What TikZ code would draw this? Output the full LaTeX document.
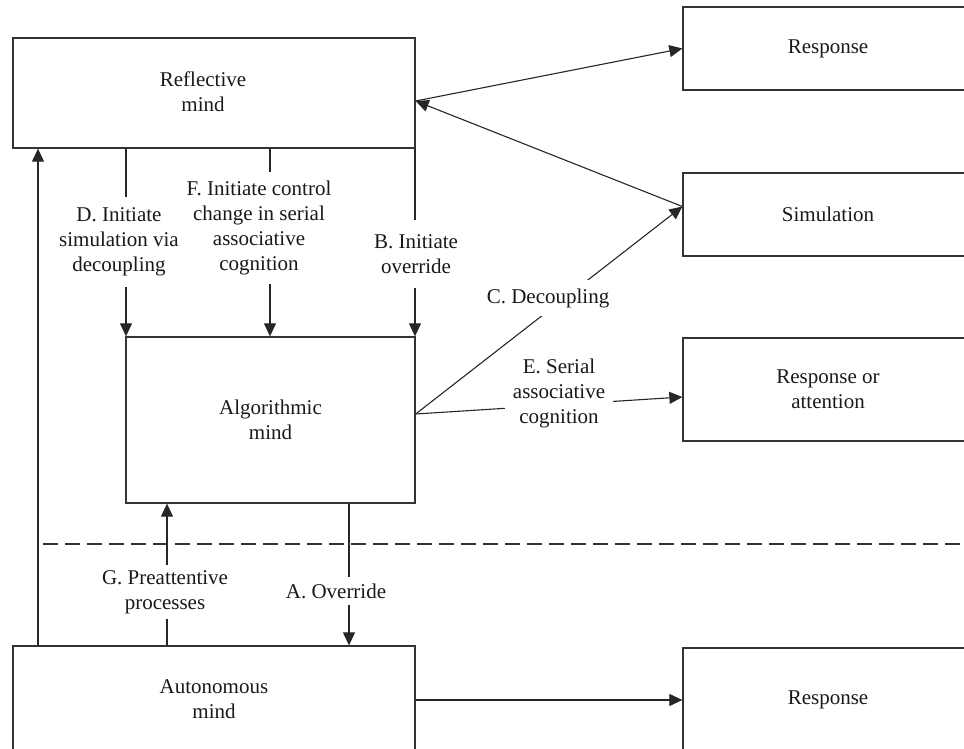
\documentclass[tikz,border=0pt]{standalone}
\usepackage{fontspec}
\setmainfont{Liberation Serif}
\usetikzlibrary{arrows.meta}
\begin{document}
\begin{tikzpicture}[x=1pt,y=-1pt,
  every node/.style={font=\fontsize{21pt}{25pt}\selectfont, text=black!90},
  mbox/.style={draw=black!80, line width=1.3pt, minimum width=#1, inner sep=0pt, align=center},
  lab/.style={fill=white, align=center, inner xsep=8pt},
  conn/.style={draw=black!85, line width=1.1pt},
  arr/.style={conn, -{Triangle[length=13pt,width=12pt]}}]
\useasboundingbox (0,0) rectangle (964,749);
\clip (0,0) rectangle (964,749);
% boxes
\node[mbox=402pt, minimum height=110pt] (refl) at (214,93) {};
\node (refltext) at (203,92) [align=center] {Reflective\\mind};
\node[mbox=289pt, minimum height=166pt] (alg) at (270.5,420) {Algorithmic\\mind};
\node[mbox=402pt, minimum height=106pt] (aut) at (214,699) {Autonomous\\mind};
\node[mbox=290pt, minimum height=83pt] (resp1) at (828,48.5) {Response};
\node[mbox=290pt, minimum height=83pt] (sim) at (828,214.5) {Simulation};
\node[mbox=290pt, minimum height=103pt] (resp2) at (828,389.5) {Response or\\attention};
\node[mbox=290pt, minimum height=104pt] (resp3) at (828,700) {Response};
% helper coordinates
\coordinate (xl) at (38,0);
\coordinate (xd) at (126,0);
\coordinate (xf) at (270,0);
\coordinate (xb) at (415,0);
\coordinate (xg) at (167,0);
\coordinate (xa) at (349,0);
\coordinate (fork) at ([yshift=6pt]alg.east);
\coordinate (reflin) at ([yshift=-8pt]refl.east);
\coordinate (simin) at ([yshift=8pt]sim.west);
\coordinate (respin) at ([yshift=-7.5pt]resp2.west);
\coordinate (dl) at (43,544);
\coordinate (dr) at (970,544);
% dashed separator
\draw[draw=black!80, line width=1.4pt, dash pattern=on 14.5pt off 7.5pt] (dl) -- (dr);
% connectors (drawn before labels so labels mask them)
\draw[arr] (xl |- aut.north) -- (xl |- refl.south);
\draw[arr] (xd |- refl.south) -- (xd |- alg.north);
\draw[arr] (xf |- refl.south) -- (xf |- alg.north);
\draw[arr] (xb |- refl.south) -- (xb |- alg.north);
\draw[arr] (xa |- alg.south) -- (xa |- aut.north);
\draw[arr] (xg |- aut.north) -- (xg |- alg.south);
\draw[arr] (reflin) -- (resp1.west);
\draw[arr] (simin) -- (reflin);
\draw[arr] (fork) -- (simin);
\draw[arr] (fork) -- (respin);
\draw[arr] (resp3.west -| aut.east) -- (resp3.west);
% labels
\node[lab, inner ysep=10.5pt] (labD) at (119,242) {D. Initiate\\simulation via\\decoupling};
\node[lab, inner ysep=9pt] (labF) at (259,228) {F. Initiate control\\change in serial\\associative\\cognition};
\node[lab, inner ysep=14pt] (labB) at (416,254) {B. Initiate\\override};
\node[lab, inner ysep=8.5pt] (labC) at (548,298) {C. Decoupling};
\node[lab, inner ysep=4pt] (labE) at (559,393.5) {E. Serial\\associative\\cognition};
\node[lab, inner ysep=5.5pt] (labG) at (165,592) {G. Preattentive\\processes};
\node[lab, inner ysep=7pt] (labA) at (336,591) {A. Override};
\end{tikzpicture}
\end{document}
